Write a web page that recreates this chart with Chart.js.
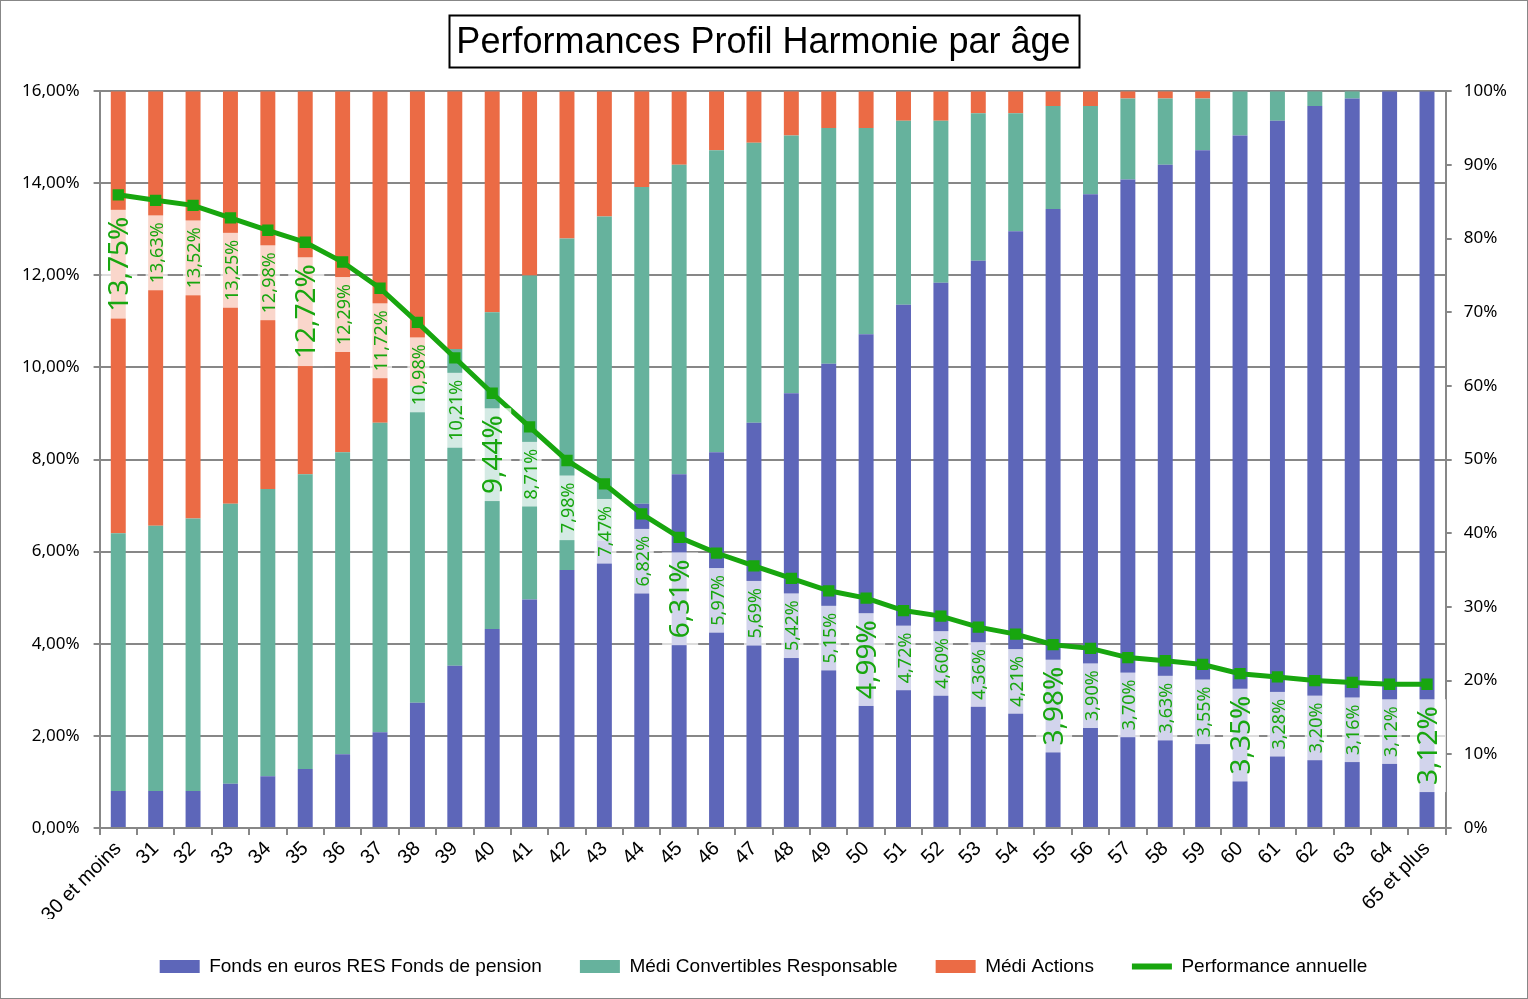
<!DOCTYPE html>
<html lang="fr">
<head>
    <meta charset="UTF-8">
    <title>Performances Profil Harmonie par âge</title>
    <script src="https://cdn.jsdelivr.net/npm/chart.js"></script>
    <style>
        body { margin: 0; background: #fff; }
        .wrap { width: 1526px; height: 997px; border: 1px solid #878787; position: relative; }
    </style>
</head>
<body>
    <div class="wrap">
        <canvas id="profilChart"></canvas>
    </div>
    <script>
        // Tranches d'âge
        const ages = ['30 et moins', '31', '32', '33', '34', '35', '36', '37', '38', '39', '40',
            '41', '42', '43', '44', '45', '46', '47', '48', '49', '50', '51', '52', '53', '54',
            '55', '56', '57', '58', '59', '60', '61', '62', '63', '64', '65 et plus'];

        // Répartition (en %, axe de droite)
        const fondsEuros = [5, 5, 5, 6, 7, 8, 10, 13, 17, 22, 27, 31, 35, 39, 44, 48, 51, 55, 59, 63,
            67, 71, 74, 77, 81, 84, 86, 88, 90, 92, 94, 96, 98, 99, 100, 100];
        const mediConvertibles = [35, 36, 37, 38, 39, 40, 41, 42, 43, 43, 43, 44, 45, 44, 43, 42, 41, 38, 35, 32,
            28, 25, 22, 20, 16, 14, 12, 11, 9, 7, 6, 4, 2, 1, 0, 0];
        const mediActions = [60, 59, 58, 56, 54, 52, 49, 45, 40, 35, 30, 25, 20, 17, 13, 10, 8, 7, 6, 5,
            5, 4, 4, 3, 3, 2, 2, 1, 1, 1, 0, 0, 0, 0, 0, 0];

        // Performance annuelle (en %, axe de gauche)
        const performance = [13.75, 13.63, 13.52, 13.25, 12.98, 12.72, 12.29, 11.72, 10.98, 10.21,
            9.44, 8.71, 7.98, 7.47, 6.82, 6.31, 5.97, 5.69, 5.42, 5.15, 4.99, 4.72, 4.60, 4.36,
            4.21, 3.98, 3.90, 3.70, 3.63, 3.55, 3.35, 3.28, 3.20, 3.16, 3.12, 3.12];

        const leftTicks = [0, 2, 4, 6, 8, 10, 12, 14, 16];
        const rightTicks = [0, 10, 20, 30, 40, 50, 60, 70, 80, 90, 100];

        const gris = '#878787';
        const vert = '#18a60f';
        const narrow = '"Liberation Sans Narrow", "Liberation Sans", sans-serif';
        const sans = '"Noto Sans", "DejaVu Sans", sans-serif';

        function pourcent(v, dec) {
            return v.toFixed(dec).replace('.', ',') + '%';
        }

        // Etiquettes verticales de la courbe, avec fond blanc transparent
        const etiquettesPlugin = {
            id: 'etiquettes',
            afterDatasetsDraw(chart) {
                const ctx = chart.ctx;
                const meta = chart.getDatasetMeta(3);
                ctx.save();
                meta.data.forEach((pt, i) => {
                    const grand = i % 5 === 0;
                    const size = grand ? 28 : 18;
                    const txt = pourcent(performance[i], 2);
                    ctx.font = size + 'px ' + sans;
                    const w = ctx.measureText(txt).width;
                    const h = grand ? 36 : 22;
                    ctx.save();
                    ctx.translate(pt.x + 1, pt.y + 22);
                    ctx.rotate(-Math.PI / 2);
                    ctx.fillStyle = 'rgba(255,255,255,0.72)';
                    ctx.fillRect(-w - 7, -h / 2, w + 14, h);
                    ctx.fillStyle = vert;
                    ctx.textAlign = 'right';
                    ctx.textBaseline = 'middle';
                    ctx.fillText(txt, 0, 1);
                    ctx.restore();
                });
                ctx.restore();
            }
        };

        // Cadre autour du titre
        const cadreTitre = {
            id: 'cadreTitre',
            afterDraw(chart) {
                const ctx = chart.ctx;
                const opts = chart.options.plugins.title;
                ctx.save();
                ctx.font = opts.font.size + 'px ' + opts.font.family;
                const w = ctx.measureText(opts.text).width;
                const cx = chart.width / 2;
                ctx.strokeStyle = '#000';
                ctx.lineWidth = 2;
                ctx.strokeRect(Math.round(cx - w / 2 - 8) + 0.5, 14.5, Math.round(w + 16), 52);
                ctx.restore();
            }
        };

        new Chart(document.getElementById('profilChart'), {
            type: 'bar',
            data: {
                labels: ages,
                datasets: [
                    { label: 'Fonds en euros RES Fonds de pension', data: fondsEuros, backgroundColor: '#5d66b9', yAxisID: 'y1', stack: 'repartition' },
                    { label: 'Médi Convertibles Responsable', data: mediConvertibles, backgroundColor: '#66b29d', yAxisID: 'y1', stack: 'repartition' },
                    { label: 'Médi Actions', data: mediActions, backgroundColor: '#eb6b45', yAxisID: 'y1', stack: 'repartition' },
                    {
                        type: 'line', label: 'Performance annuelle', data: performance, yAxisID: 'y',
                        borderColor: vert, backgroundColor: vert, borderWidth: 5,
                        pointStyle: 'rect', pointRadius: 8, pointBackgroundColor: vert,
                        pointBorderWidth: 0, tension: 0, order: -1
                    }
                ]
            },
            options: {
                responsive: true,
                maintainAspectRatio: false,
                animation: false,
                layout: { padding: { left: 7, right: 8, top: 0, bottom: 12 } },
                datasets: { bar: { categoryPercentage: 1, barPercentage: 0.4 } },
                plugins: {
                    title: {
                        display: true,
                        text: 'Performances Profil Harmonie par âge',
                        color: '#000',
                        font: { family: narrow, size: 36, weight: 'normal' },
                        padding: { top: 20, bottom: 27 }
                    },
                    legend: {
                        position: 'bottom',
                        labels: {
                            color: '#000',
                            font: { family: narrow, size: 19 },
                            usePointStyle: true,
                            pointStyleWidth: 40,
                            boxHeight: 13,
                            padding: 38,
                            sort: (a, b) => a.datasetIndex - b.datasetIndex,
                            generateLabels(chart) {
                                const items = Chart.defaults.plugins.legend.labels.generateLabels(chart);
                                items.forEach(it => {
                                    if (it.datasetIndex === 3) {
                                        it.pointStyle = 'line';
                                        it.lineWidth = 6;
                                        it.strokeStyle = vert;
                                    } else {
                                        it.pointStyle = 'rect';
                                        it.lineWidth = 0;
                                    }
                                });
                                return items;
                            }
                        }
                    },
                    tooltip: { enabled: false }
                },
                scales: {
                    x: {
                        stacked: true,
                        afterFit: scale => { scale.height -= 10; },
                        grid: { drawOnChartArea: false, color: gris, lineWidth: 2, tickLength: 7 },
                        border: { color: gris, width: 2 },
                        ticks: { color: '#000', font: { family: narrow, size: 20 }, minRotation: 45, maxRotation: 45, autoSkip: false, padding: 2 }
                    },
                    y: {
                        position: 'left',
                        min: 0, max: 16,
                        afterBuildTicks: axis => { axis.ticks = leftTicks.map(v => ({ value: v })); },
                        grid: { color: gris, lineWidth: 2, tickLength: 6 },
                        border: { color: gris, width: 2 },
                        ticks: { color: '#000', font: { family: sans, size: 17 }, padding: 14, callback: v => pourcent(v, 2) }
                    },
                    y1: {
                        position: 'right',
                        stacked: true,
                        min: 0, max: 100,
                        afterBuildTicks: axis => { axis.ticks = rightTicks.map(v => ({ value: v })); },
                        grid: { drawOnChartArea: false, color: gris, lineWidth: 2, tickLength: 6 },
                        border: { color: gris, width: 2 },
                        ticks: { color: '#000', font: { family: sans, size: 17 }, padding: 12, callback: v => v + '%' }
                    }
                }
            },
            plugins: [etiquettesPlugin, cadreTitre]
        });
    </script>
</body>
</html>
